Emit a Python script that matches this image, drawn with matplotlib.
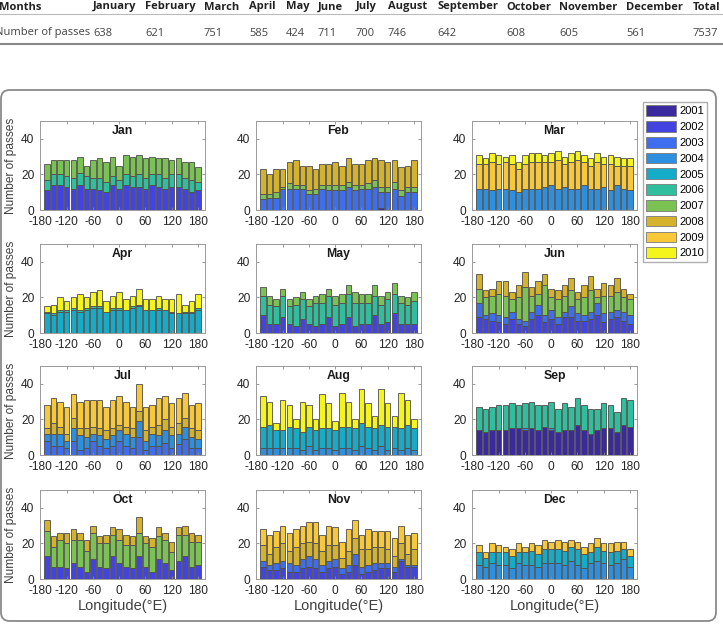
import numpy as np
import matplotlib.pyplot as plt
from matplotlib.patches import Patch, FancyBboxPatch
from matplotlib.lines import Line2D

# table at the top
months = ['January', 'February', 'March', 'April', 'May', 'June', 'July',
          'August', 'September', 'October', 'November', 'December']
passes = [638, 621, 751, 585, 424, 711, 700, 746, 642, 608, 605, 561]
total_passes = 7537

years = [2001, 2002, 2003, 2004, 2005, 2006, 2007, 2008, 2009, 2010]
year_colors = ['#3b2a9e', '#4343e0', '#3d6ef0', '#2d8fe0', '#14acc8',
               '#30bf9c', '#7ac252', '#d4b22c', '#f8c838', '#f5f51c']

lon = np.arange(-165, 181, 15)

# cumulative bar tops per year layer
jan_years = [2002, 2006, 2007]
jan_tops = [[11,14,14,13,12,14,12,12,11,10,14,12,14,13,13,12,14,13,12,13,13,12,10,11],
            [17,20,20,19,18,21,19,18,18,16,19,17,20,19,20,18,20,20,18,20,20,18,17,16],
            [26,28,28,28,28,30,25,28,29,27,30,25,31,30,31,29,30,29,29,28,29,27,27,24]]

feb_years = [2001, 2003, 2007, 2008]
feb_tops = [[0,0,0,0,0,0,0,0,0,0,0,0,0,0,0,0,0,0,1,0,0,0,0,0],
            [6,7,7,12,12,12,12,9,9,12,11,11,11,13,11,12,12,13,10,10,12,8,10,10],
            [9,9,10,13,15,14,14,11,12,14,14,14,14,16,14,14,15,17,13,13,16,11,13,13],
            [23,20,23,23,27,28,25,25,23,26,26,27,25,29,26,26,28,29,28,27,28,24,25,28]]

mar_years = [2004, 2009, 2010]
mar_tops = [[12,12,11,12,12,11,10,12,12,12,13,14,12,13,12,12,14,12,12,13,11,14,12,11],
            [26,26,27,26,27,26,23,26,27,27,27,27,28,26,27,28,27,25,27,26,26,25,25,25],
            [31,29,32,31,30,31,27,31,32,32,31,32,33,30,32,33,31,29,32,30,31,30,29,29]]

apr_years = [2005, 2006, 2010]
apr_tops = [[11,10,12,12,13,12,13,14,14,12,13,13,13,14,15,13,13,13,13,11,11,11,11,13],
            [12,11,13,13,14,13,14,15,15,12,14,14,13,15,16,13,13,14,13,12,11,12,12,14],
            [15,16,20,18,20,22,20,23,24,18,21,23,19,21,25,19,19,21,19,19,22,16,18,22]]

may_years = [2002, 2006, 2007]
may_tops = [[10,5,5,9,5,4,8,5,4,5,9,4,5,9,4,5,5,10,5,6,11,5,5,5],
            [21,16,15,21,15,16,19,15,17,17,21,16,17,22,17,17,17,21,16,19,22,17,16,18],
            [26,21,19,25,19,20,23,19,21,22,25,21,22,27,23,22,22,27,21,23,28,21,20,23]]

jun_years = [2002, 2003, 2007, 2008]
jun_tops = [[9,8,7,6,5,8,5,4,8,10,6,8,5,9,9,7,7,8,10,6,8,9,7,5],
            [17,10,11,10,9,12,8,7,12,16,10,13,9,12,15,11,10,12,17,11,12,13,12,10],
            [25,20,21,22,21,19,20,26,21,22,27,20,19,21,24,19,20,24,20,21,21,23,20,19],
            [33,24,25,29,29,23,27,34,26,29,33,25,24,27,31,23,27,32,25,28,27,31,25,22]]

jul_years = [2003, 2004, 2008, 2009]
jul_tops = [[8,5,5,4,8,3,4,8,5,4,5,8,5,4,10,3,5,5,7,4,6,9,4,4],
            [12,12,12,8,15,11,10,12,11,9,11,14,12,10,19,8,12,11,14,11,12,16,10,9],
            [15,18,16,12,21,15,15,16,15,14,15,17,16,15,25,14,16,17,20,16,18,21,15,14],
            [28,32,30,27,34,30,31,31,31,27,31,33,30,27,40,27,28,32,33,29,32,35,28,29]]

aug_years = [2004, 2005, 2010]
aug_tops = [[4,4,4,4,4,4,3,5,3,4,4,3,4,4,3,5,4,3,5,3,4,3,4,3],
            [16,17,14,14,16,15,13,16,14,15,15,14,16,16,15,18,16,15,17,16,16,15,17,15],
            [33,30,18,31,28,20,30,28,20,34,29,19,35,30,20,37,29,22,37,29,22,35,31,20]]

sep_years = [2001, 2004, 2006]
sep_tops = [[14,13,14,14,14,15,15,14,15,14,16,14,13,14,14,17,14,12,14,15,15,13,17,16],
            [14,13,14,14,14,15,15,15,15,14,16,15,13,14,14,17,14,12,14,15,15,13,17,16],
            [27,26,27,28,28,29,28,29,30,28,28,30,26,29,27,32,28,26,26,29,28,24,32,31]]

oct_years = [2002, 2007, 2008]
oct_tops = [[13,7,7,6,9,7,4,11,7,6,13,9,7,6,13,7,4,11,9,5,10,13,7,8],
            [27,18,22,20,22,22,16,26,20,20,25,22,19,19,26,20,18,24,22,15,25,25,21,21],
            [33,24,26,26,28,26,22,30,24,25,29,28,25,24,35,24,23,29,26,21,29,30,26,25]]

nov_years = [2002, 2003, 2008, 2009]
nov_tops = [[7,5,5,6,4,4,6,7,6,4,6,7,3,4,8,3,4,5,6,6,4,10,7,7],
            [10,8,9,10,9,8,11,13,11,8,10,11,6,8,14,7,8,9,9,9,7,11,8,8],
            [19,14,18,20,16,18,20,21,20,16,19,19,12,16,23,17,17,18,18,17,13,20,14,17],
            [28,25,27,30,26,28,30,32,32,25,30,29,21,28,33,25,28,27,27,27,23,30,25,26]]

dec_years = [2004, 2005, 2009]
dec_tops = [[8,7,9,8,8,6,9,8,8,7,9,9,9,8,10,8,6,9,10,9,8,9,11,7],
            [15,12,15,15,15,13,15,15,16,14,17,17,17,16,18,17,14,15,18,16,15,16,17,13],
            [19,15,20,19,18,17,20,18,20,19,22,21,22,21,22,21,18,20,23,20,20,21,21,17]]

panels = [('Jan', jan_years, jan_tops), ('Feb', feb_years, feb_tops), ('Mar', mar_years, mar_tops),
          ('Apr', apr_years, apr_tops), ('May', may_years, may_tops), ('Jun', jun_years, jun_tops),
          ('Jul', jul_years, jul_tops), ('Aug', aug_years, aug_tops), ('Sep', sep_years, sep_tops),
          ('Oct', oct_years, oct_tops), ('Nov', nov_years, nov_tops), ('Dec', dec_years, dec_tops)]

W, H = 723, 625
plt.rcParams['font.family'] = ['Liberation Sans', 'DejaVu Sans']
plt.rcParams['axes.unicode_minus'] = False
fig = plt.figure(figsize=(W / 100, H / 100), dpi=100)

def fx(px):
    return px / W

def fy(py):
    return 1 - py / H

# --- table ---
col_x = [93, 145, 204, 249, 286, 318, 356, 388, 437, 506, 559, 626, 693]
tfont = ['Open Sans', 'DejaVu Sans']
fig.text(fx(-1), fy(7), 'Months', fontsize=8, fontweight='bold', family=tfont, va='center', color='#222222')
fig.text(fx(-5), fy(33), 'Number of passes', fontsize=8, family=tfont, va='center', color='#444444')
for x, m, p in zip(col_x, months + ['Total'], passes + [total_passes]):
    fig.text(fx(x), fy(7), m, fontsize=8, fontweight='bold', family=tfont, va='center', color='#222222')
    fig.text(fx(x), fy(33), str(p), fontsize=8, family=tfont, va='center', color='#444444')
fig.add_artist(Line2D([0, 1], [fy(14), fy(14)], transform=fig.transFigure, color='#bbbbbb', lw=0.8))
fig.add_artist(Line2D([0, 1], [fy(44), fy(44)], transform=fig.transFigure, color='#888888', lw=1.5))

# --- rounded frame around the figure panels ---
frame = FancyBboxPatch((fx(1), fy(621)), fx(716) - fx(1), fy(90) - fy(621),
                       boxstyle='round,pad=0,rounding_size=0.012', mutation_aspect=W / H,
                       transform=fig.transFigure, facecolor='none', edgecolor='#8a8a8a', lw=1.3)
fig.add_artist(frame)

# --- panels ---
lefts = [40, 256, 472]
tops = [121, 244, 366, 490]
aw, ah = 165, 89
color_of = dict(zip(years, year_colors))

for i, (name, yrs, layers) in enumerate(panels):
    r, c = divmod(i, 3)
    ax = fig.add_axes([fx(lefts[c]), fy(tops[r] + ah), aw / W, ah / H])
    bottom = np.zeros(len(lon))
    for yr, top in zip(yrs, layers):
        top = np.array(top, dtype=float)
        ax.bar(lon, top - bottom, bottom=bottom, width=12.5, color=color_of[yr],
               edgecolor='#4d4d4d', linewidth=0.6)
        bottom = top
    ax.set_xlim(-181, 196)
    ax.set_ylim(0, 50)
    ax.set_xticks([-180, -120, -60, 0, 60, 120, 180])
    ax.set_yticks([0, 20, 40])
    ax.tick_params(direction='in', length=2.5, width=0.6, top=True, right=True,
                   labelsize=8.6, colors='#8a8a8a', labelcolor='#262626')
    ax.tick_params(axis='x', pad=4)
    ax.tick_params(axis='y', pad=4)
    for s in ax.spines.values():
        s.set_color('#9a9a9a')
        s.set_linewidth(0.7)
    ax.text(0.5, 0.885, name, transform=ax.transAxes, ha='center', va='center',
            fontsize=8.8, fontweight='bold', color='#1a1a1a')
    if c == 0:
        ax.set_ylabel('Number of passes', fontsize=8.6, color='#404040')
        ax.yaxis.set_label_coords(-0.14, 0.5)
    if r == 3:
        ax.set_xlabel('Longitude(°E)', fontsize=10.5, color='#404040', labelpad=2)

# --- legend ---
handles = [Patch(facecolor=col, edgecolor='#7a7a7a', lw=0.6) for col in year_colors]
fig.legend(handles, [str(y) for y in years], loc='upper left',
           bbox_to_anchor=(fx(643), fy(102)), fontsize=8, frameon=True, fancybox=False,
           edgecolor='#9a9a9a', handlelength=2.7, handleheight=1.1, labelspacing=0.42,
           handletextpad=0.25, borderpad=0.3, borderaxespad=0)

fig.savefig('out.png', dpi=100)
